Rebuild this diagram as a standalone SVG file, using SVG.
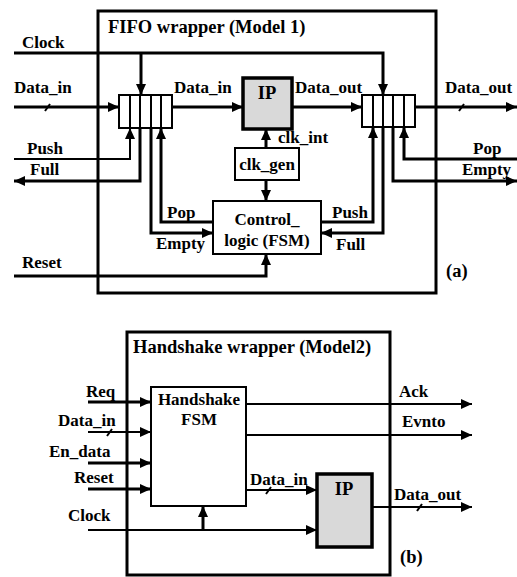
<svg xmlns="http://www.w3.org/2000/svg" width="517" height="577" viewBox="0 0 517 577">
<style>
text{font-family:"Liberation Serif","Times New Roman",serif;font-weight:bold;font-size:17px;fill:#000}
.t{font-size:18.5px}
.c{text-anchor:middle}
.w{fill:none;stroke:#000;stroke-width:3}
.n{fill:none;stroke:#000;stroke-width:2}
.box{fill:#fff;stroke:#000;stroke-width:2}
.ip{fill:#d9d9d9;stroke:#000;stroke-width:3.5}
.frame{fill:none;stroke:#000;stroke-width:3}
</style>
<defs>
<marker id="ah" markerUnits="userSpaceOnUse" markerWidth="11" markerHeight="10" refX="11" refY="5" orient="auto" viewBox="0 0 11 10">
<path d="M0,0 L11,5 L0,10 z" fill="#000"/>
</marker>
</defs>

<g id="wrapper-a">
<rect class="frame" x="98" y="11" width="338" height="282"/>
<text class="t" x="108" y="33">FIFO wrapper (Model 1)</text>
<text class="t" x="446" y="277">(a)</text>
</g>

<g id="connectors-a">
<path class="w" d="M14,53 H383 V95" marker-end="url(#ah)"/>
<path class="w" d="M141,53 V95" marker-end="url(#ah)"/>
<path class="w" d="M14,107 H119" marker-end="url(#ah)"/>
<path class="w" d="M172,107 H243" marker-end="url(#ah)"/>
<path class="w" d="M292,107 H362" marker-end="url(#ah)"/>
<path class="w" d="M415,107 H517" marker-end="url(#ah)"/>
<path class="n" d="M14,159 H130 V128" marker-end="url(#ah)"/>
<path class="w" d="M140,128 V181 H14" marker-end="url(#ah)"/>
<path class="w" d="M151,128 V233 H213" marker-end="url(#ah)"/>
<path class="w" d="M213,222 H161 V128" marker-end="url(#ah)"/>
<path class="w" d="M14,276 H266 V254" marker-end="url(#ah)"/>
<path class="w" d="M266,180 V201" marker-end="url(#ah)"/>
<path class="w" d="M266,148 V129" marker-end="url(#ah)"/>
<path class="w" d="M321,222 H373 V127" marker-end="url(#ah)"/>
<path class="w" d="M383,127 V233 H321" marker-end="url(#ah)"/>
<path class="w" d="M517,159 H404 V127" marker-end="url(#ah)"/>
<path class="w" d="M393,127 V181 H517" marker-end="url(#ah)"/>
<path class="n" d="M45,111 L50,104"/>
<path class="n" d="M459,111 L464,104"/>
</g>

<g id="labels-a">
<text x="22" y="48">Clock</text>
<text x="14" y="93">Data_in</text>
<text x="174" y="93">Data_in</text>
<text x="295" y="93">Data_out</text>
<text x="445" y="93">Data_out</text>
<text x="27" y="154">Push</text>
<text x="30" y="175">Full</text>
<text x="167" y="218">Pop</text>
<text x="156" y="249">Empty</text>
<text x="22" y="268">Reset</text>
<text x="278" y="143">clk_int</text>
<text x="332" y="218">Push</text>
<text x="336" y="250">Full</text>
<text x="473" y="154">Pop</text>
<text x="462" y="175">Empty</text>
</g>

<g id="fifo1">
<rect class="box" x="119" y="95" width="53" height="33"/>
<path class="n" d="M130,95 V128 M140,95 V128 M151,95 V128 M161,95 V128"/>
</g>

<g id="fifo2">
<rect class="box" x="362" y="95" width="53" height="32"/>
<path class="n" d="M373,95 V127 M383,95 V127 M393,95 V127 M404,95 V127"/>
</g>

<g id="ip-a">
<rect class="ip" x="243" y="78" width="49" height="51"/>
<text class="t c" x="267" y="99">IP</text>
</g>

<g id="clk-gen">
<rect class="box" x="235" y="148" width="64" height="32"/>
<text class="c" x="267" y="170">clk_gen</text>
</g>

<g id="control-logic">
<rect class="box" x="213" y="201" width="108" height="53"/>
<text class="c" x="267" y="225">Control_</text>
<text class="c" x="267" y="246">logic (FSM)</text>
</g>

<g id="wrapper-b">
<rect class="frame" x="127" y="332" width="263" height="243"/>
<text class="t" x="133" y="353">Handshake wrapper (Model2)</text>
<text class="t" x="400" y="563">(b)</text>
</g>

<g id="connectors-b">
<path class="w" d="M88,402 H151" marker-end="url(#ah)"/>
<path class="n" d="M88,432 H151" marker-end="url(#ah)"/>
<path class="w" d="M88,463 H151" marker-end="url(#ah)"/>
<path class="w" d="M88,489 H151" marker-end="url(#ah)"/>
<path class="n" d="M88,530 H317" marker-end="url(#ah)"/>
<path class="w" d="M203,530 V506" marker-end="url(#ah)"/>
<path class="n" d="M246,404 H472" marker-end="url(#ah)"/>
<path class="n" d="M246,435 H472" marker-end="url(#ah)"/>
<path class="n" d="M246,490 H317" marker-end="url(#ah)"/>
<path class="n" d="M372,507 H472" marker-end="url(#ah)"/>
<path class="n" d="M107,436 L112,429"/>
<path class="n" d="M266,494 L271,487"/>
<path class="n" d="M417,511 L422,504"/>
</g>

<g id="labels-b">
<text x="86" y="397">Req</text>
<text x="58" y="426">Data_in</text>
<text x="49" y="457">En_data</text>
<text x="74" y="483">Reset</text>
<text x="68" y="521">Clock</text>
<text x="399" y="397">Ack</text>
<text x="402" y="427">Evnto</text>
<text x="250" y="485">Data_in</text>
<text x="394" y="500">Data_out</text>
</g>

<g id="handshake-fsm">
<rect class="box" x="151" y="387" width="95" height="119"/>
<text class="c" x="199" y="405">Handshake</text>
<text class="c" x="199" y="425">FSM</text>
</g>

<g id="ip-b">
<rect class="ip" x="317" y="474" width="55" height="73"/>
<text class="t c" x="344" y="495">IP</text>
</g>
</svg>
